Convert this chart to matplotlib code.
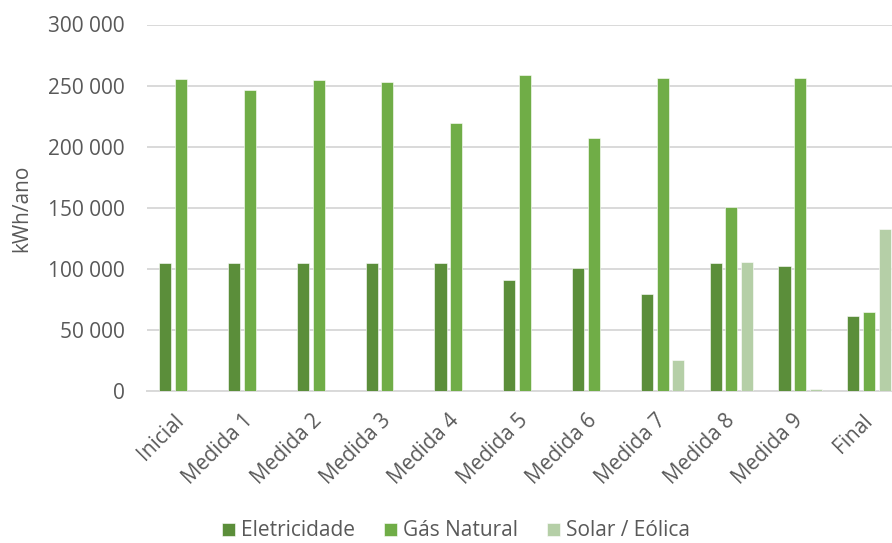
import matplotlib
matplotlib.use("Agg")
import matplotlib.pyplot as plt
import numpy as np
from matplotlib.ticker import FuncFormatter

categories = ["Inicial", "Medida 1", "Medida 2", "Medida 3", "Medida 4", "Medida 5",
              "Medida 6", "Medida 7", "Medida 8", "Medida 9", "Final"]
eletricidade = [104600, 104500, 104500, 104500, 104600, 90700, 100700, 79000, 104600, 102700, 61000]
gas_natural = [255700, 246700, 254500, 253300, 219600, 258700, 207300, 256000, 150900, 256000, 64800]
solar_eolica = [0, 0, 0, 0, 0, 0, 0, 25600, 105400, 1600, 132600]
series_names = ["Eletricidade", "Gás Natural", "Solar / Eólica"]
colors = ["#5B8E3A", "#70AD47", "#B5CFA7"]
yticks = [0, 50000, 100000, 150000, 200000, 250000, 300000]

plt.rcParams['font.family'] = ['Open Sans', 'DejaVu Sans']
text_color = "#595959"

fig = plt.figure(figsize=(8.92, 5.43), dpi=100)
W, H = 892, 543
left_px, right_px = 146.6, 903.4
bottom_px, top_px = 391, 24.5
ax = fig.add_axes([left_px / W, (H - bottom_px) / H, (right_px - left_px) / W, (bottom_px - top_px) / H])

x = np.arange(len(categories))
slot = 0.228
bw = 0.176
for i, (vals, c, name) in enumerate(zip([eletricidade, gas_natural, solar_eolica], colors, series_names)):
    ax.bar(x + (i - 1) * slot, vals, width=bw, color=c, label=name, zorder=3,
           edgecolor="white", linewidth=0.4)

ax.set_xlim(-0.5, len(categories) - 0.5)
ax.set_ylim(0, 300000)
ax.set_yticks(yticks)
ax.yaxis.set_major_formatter(FuncFormatter(lambda v, p: f"{int(v):,}".replace(",", " ")))
ax.grid(axis='y', color="#D9D9D9", linewidth=1.4, zorder=0)
for s in ["top", "right", "left"]:
    ax.spines[s].set_visible(False)
ax.spines["bottom"].set_color("#D9D9D9")
ax.spines["bottom"].set_linewidth(1.4)
ax.tick_params(axis='y', length=0, pad=16, labelsize=15, labelcolor=text_color)
ax.tick_params(axis='x', length=0, pad=19, labelsize=15, labelcolor=text_color)
ax.set_xticks(x)
ax.set_xticklabels(categories, rotation=45, ha='right', va='center', rotation_mode='anchor')

fig.text(22 / W, (H - 208) / H, "kWh/ano", rotation=90, ha='center', va='center',
         fontsize=15, color=text_color)

handles, labels = ax.get_legend_handles_labels()
leg = fig.legend(handles, labels, loc='center', bbox_to_anchor=(456 / W, (H - 531) / H),
                 ncol=3, frameon=False, fontsize=15, handlelength=0.6, handleheight=0.6,
                 handletextpad=0.3, columnspacing=1.4, labelcolor=text_color)

fig.savefig("out.png", dpi=100)
